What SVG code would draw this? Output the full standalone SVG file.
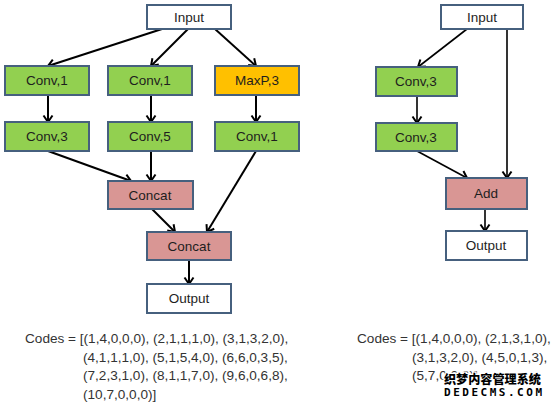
<svg xmlns="http://www.w3.org/2000/svg" width="553" height="406" viewBox="0 0 553 406">
<defs>
<style>
.box{stroke:#46607e;stroke-width:2}
.w{fill:#ffffff}
.g{fill:#92d050}
.o{fill:#ffc000}
.p{fill:#d99694}
.lbl{font-family:"Liberation Sans",Arial,sans-serif;font-size:13.5px;fill:#1e1e1e;text-anchor:middle}
.code{font-family:"Liberation Sans",Arial,sans-serif;font-size:13.6px;fill:#333333}
.cn{stroke:#000;stroke-width:2;fill:none;marker-end:url(#ah)}
.cn2{stroke:#000;stroke-width:1.6;fill:none;marker-end:url(#ah)}
.wm1{font-family:"Noto Sans CJK SC",sans-serif;font-weight:900;font-size:12px;fill:#000;stroke:#fff;stroke-width:2.5;paint-order:stroke}
.wm2{font-family:"DejaVu Sans Mono",monospace;font-weight:bold;font-size:11px;fill:#000;stroke:#fff;stroke-width:2.5;paint-order:stroke}
</style>
<marker id="ah" viewBox="-8 -6 10 12" refX="0" refY="0" markerWidth="10" markerHeight="12" markerUnits="userSpaceOnUse" orient="auto">
<path d="M-6.5,-4.5 L0,0 L-6.5,4.5" fill="none" stroke="#000" stroke-width="2"/>
</marker>
</defs>
<rect width="553" height="406" fill="#ffffff"/>
<g id="connectors">
<line class="cn" x1="162" y1="29" x2="48" y2="66"/>
<line class="cn" x1="188" y1="29" x2="151" y2="66"/>
<line class="cn" x1="215" y1="29" x2="256" y2="66"/>
<line class="cn" x1="48" y1="95" x2="48" y2="122"/>
<line class="cn" x1="151" y1="95" x2="151" y2="122"/>
<line class="cn" x1="256" y1="95" x2="256" y2="122"/>
<line class="cn" x1="48" y1="151" x2="131" y2="181"/>
<line class="cn" x1="151" y1="151" x2="151" y2="181"/>
<line class="cn" x1="256" y1="151" x2="207" y2="232"/>
<line class="cn" x1="152" y1="209" x2="175" y2="232"/>
<line class="cn" x1="189" y1="260" x2="189" y2="284"/>
<line class="cn2" x1="467" y1="29" x2="418" y2="67"/>
<line class="cn2" x1="417" y1="96" x2="417" y2="123"/>
<line class="cn2" x1="417" y1="151" x2="467" y2="178"/>
<line class="cn2" x1="507" y1="29" x2="507" y2="178"/>
<line class="cn2" x1="485" y1="209" x2="485" y2="231"/>
</g>
<g id="l-input"><rect class="box w" x="147" y="5" width="84" height="24"/><text class="lbl" x="189" y="22">Input</text></g>
<g id="l-conv1a"><rect class="box g" x="5" y="66" width="84" height="29"/><text class="lbl" x="47" y="85">Conv,1</text></g>
<g id="l-conv1b"><rect class="box g" x="108" y="66" width="84" height="29"/><text class="lbl" x="150" y="85">Conv,1</text></g>
<g id="l-maxp3"><rect class="box o" x="215" y="66" width="84" height="29"/><text class="lbl" x="257" y="85">MaxP,3</text></g>
<g id="l-conv3"><rect class="box g" x="5" y="122" width="84" height="29"/><text class="lbl" x="47" y="141">Conv,3</text></g>
<g id="l-conv5"><rect class="box g" x="108" y="122" width="84" height="29"/><text class="lbl" x="150" y="141">Conv,5</text></g>
<g id="l-conv1c"><rect class="box g" x="215" y="122" width="84" height="29"/><text class="lbl" x="257" y="141">Conv,1</text></g>
<g id="l-concat1"><rect class="box p" x="108" y="181" width="85" height="28"/><text class="lbl" x="150" y="200">Concat</text></g>
<g id="l-concat2"><rect class="box p" x="147" y="232" width="84" height="28"/><text class="lbl" x="189" y="251">Concat</text></g>
<g id="l-output"><rect class="box w" x="147" y="284" width="84" height="29"/><text class="lbl" x="189" y="303">Output</text></g>
<g id="r-input"><rect class="box w" x="441" y="5" width="82" height="24"/><text class="lbl" x="482" y="22">Input</text></g>
<g id="r-conv3a"><rect class="box g" x="376" y="67" width="81" height="29"/><text class="lbl" x="416" y="86">Conv,3</text></g>
<g id="r-conv3b"><rect class="box g" x="376" y="123" width="81" height="28"/><text class="lbl" x="416" y="142">Conv,3</text></g>
<g id="r-add"><rect class="box p" x="446" y="178" width="81" height="31"/><text class="lbl" x="486" y="198">Add</text></g>
<g id="r-output"><rect class="box w" x="446" y="231" width="81" height="29"/><text class="lbl" x="486" y="250">Output</text></g>
<g id="codes-left">
<text class="code" x="25" y="343">Codes = [(1,4,0,0,0), (2,1,1,1,0), (3,1,3,2,0),</text>
<text class="code" x="83" y="361.5">(4,1,1,1,0), (5,1,5,4,0), (6,6,0,3,5),</text>
<text class="code" x="83" y="380">(7,2,3,1,0), (8,1,1,7,0), (9,6,0,6,8),</text>
<text class="code" x="83" y="398.5">(10,7,0,0,0)]</text>
</g>
<g id="codes-right">
<text class="code" x="357" y="343">Codes = [(1,4,0,0,0), (2,1,3,1,0),</text>
<text class="code" x="412" y="361.5">(3,1,3,2,0), (4,5,0,1,3),</text>
<text class="code" x="412" y="380">(5,7,0,0,0)]</text>
</g>
<g id="watermark">
<text class="wm1" x="444" y="384" textLength="97" lengthAdjust="spacingAndGlyphs">织梦内容管理系统</text>
<text class="wm2" x="444" y="396" textLength="98" lengthAdjust="spacing">DEDECMS.COM</text>
</g>
</svg>
